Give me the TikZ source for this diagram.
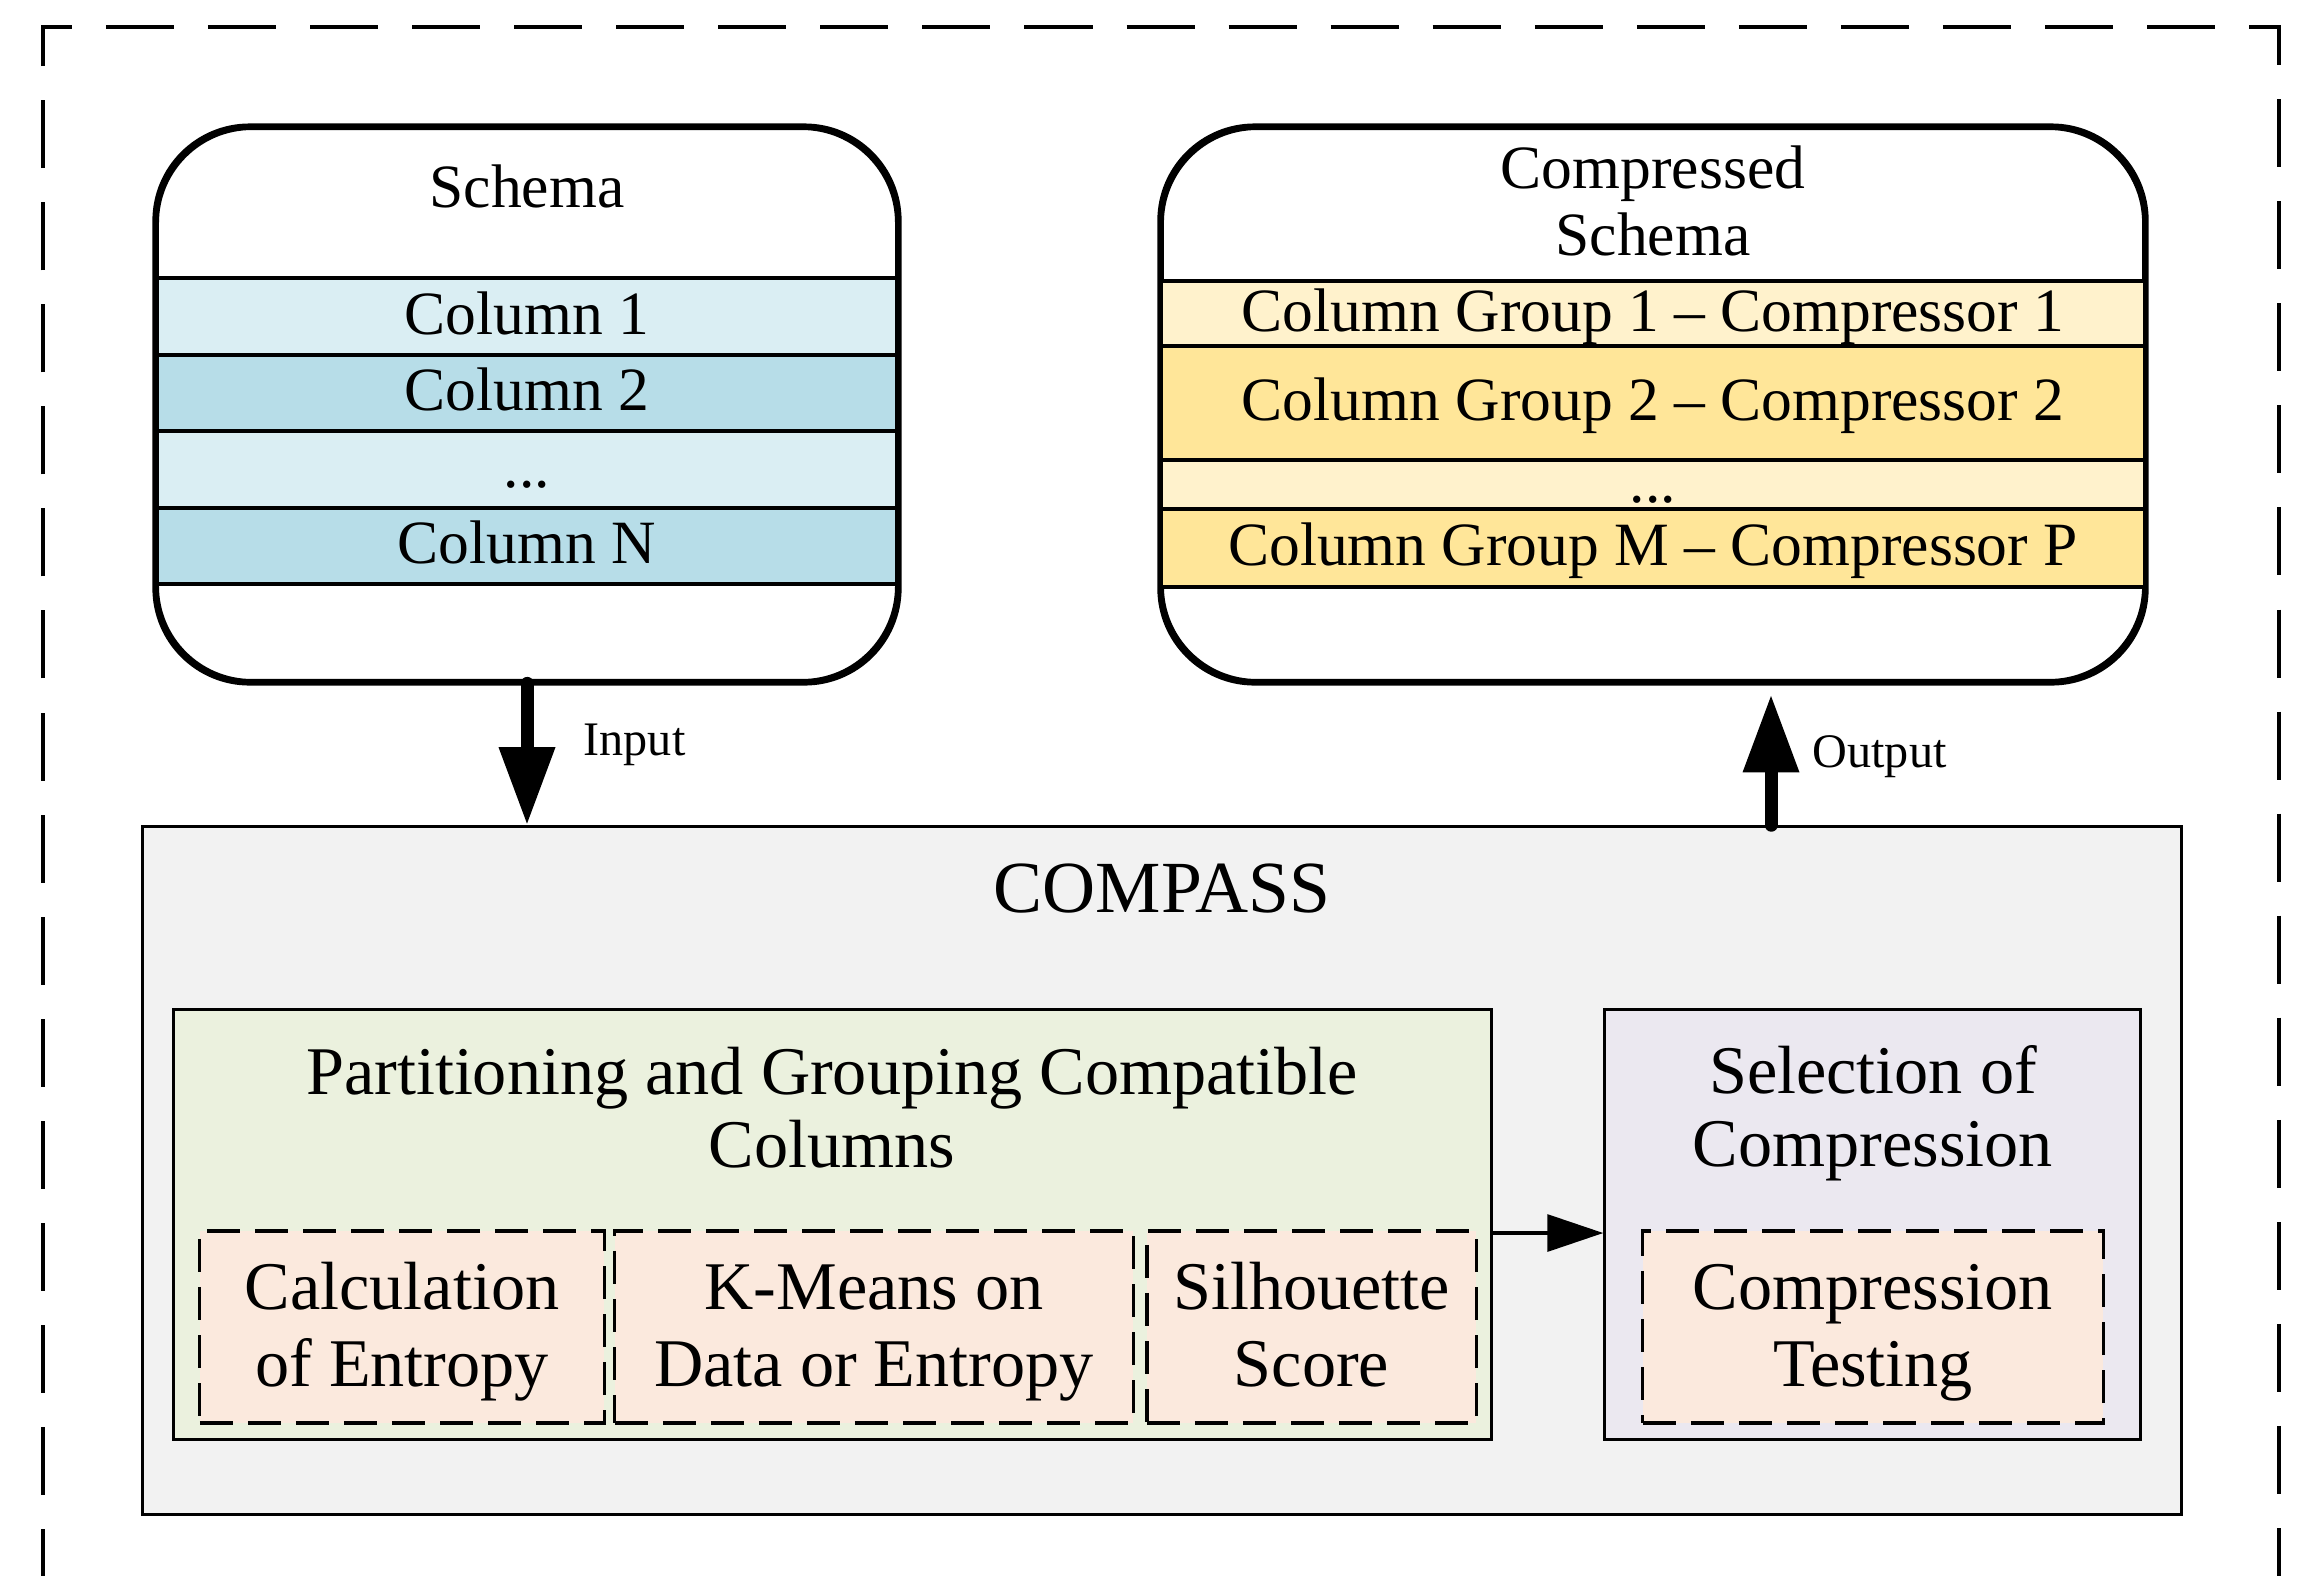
\documentclass[tikz,border=0pt]{standalone}
\usepackage{fontspec}
\setmainfont{Liberation Serif}
\usetikzlibrary{arrows.meta,calc}
\definecolor{sLight}{HTML}{DAEEF3}
\definecolor{sDark}{HTML}{B7DDE8}
\definecolor{cLight}{HTML}{FFF2CC}
\definecolor{cDark}{HTML}{FFE699}
\definecolor{cGray}{HTML}{F2F2F2}
\definecolor{gFill}{HTML}{EBF1DE}
\definecolor{pFill}{HTML}{EBE8F0}
\definecolor{peach}{HTML}{FBE9DD}
\newcommand\fschema{\fontsize{17.5pt}{19.1pt}\selectfont}
\newcommand\flabel{\fontsize{13.7pt}{15pt}\selectfont}
\newcommand\ftitle{\fontsize{20.9pt}{23pt}\selectfont}
\newcommand\finnerT{\fontsize{19.4pt}{20.8pt}\selectfont}
\newcommand\finner{\fontsize{19.4pt}{22pt}\selectfont}
\newcommand\dst{\rule[-5.1pt]{0pt}{22pt}}
\begin{document}
\begin{tikzpicture}[x=0.01cm,y=-0.01cm,
  box/.style={draw, line width=0.9pt, inner sep=0pt},
  roundbox/.style={draw, line width=1.25pt, fill=white, rounded corners=0.95cm, inner sep=0pt, minimum height=5.53cm},
  rowbox/.style={draw, line width=1pt, inner sep=0pt, text height=10pt, text depth=0pt, font=\fschema},
  dbox/.style={draw, line width=0.9pt, dash pattern=on 0.33cm off 0.15cm, fill=peach, inner sep=0pt, align=center, font=\finner, minimum height=1.92cm},
  bigarrow/.style={line width=3.7pt, line cap=round, -{Triangle[length=0.78cm, width=0.53cm]}},
  smallarrow/.style={line width=0.9pt, -{Triangle[length=0.56cm, width=0.37cm]}},
  lbl/.style={font=\flabel, anchor=base west, inner sep=0pt}
]
\useasboundingbox (0,0) rectangle (2315,1575);
\clip (0,0) rectangle (2315,1575);
% outer dashed frame
\draw[line width=1.1pt, dash pattern=on 0.68cm off 0.34cm, dash phase=0.99cm]
  (43,1600) -- (43,27) -- (2279,27) -- (2279,1600);

% Schema
\node[roundbox, minimum width=7.4cm] (schema) at (527,404.5) {};
\node[font=\fschema, anchor=base, inner sep=0pt] (schematitle) at (527,207) {Schema};
\node[rowbox, fill=sLight, minimum width=7.4cm, minimum height=0.77cm] (s1) at (527,316.5) {Column 1};
\node[rowbox, fill=sDark, minimum width=7.4cm, minimum height=0.76cm] (s2) at (527,393) {Column 2};
\node[rowbox, fill=sLight, minimum width=7.4cm, minimum height=0.77cm] (s3) at (527,469.5) {...};
\node[rowbox, fill=sDark, minimum width=7.4cm, minimum height=0.76cm] (s4) at (527,546) {Column N};
\draw[line width=1.25pt, rounded corners=0.95cm] (schema.north west) rectangle (schema.south east);

% Compressed schema
\node[roundbox, minimum width=9.82cm] (comp) at (1653,404.5) {};
\node[font=\fschema, align=center, inner sep=0pt] (comptitle) at (1653,201) {Compressed\\Schema};
\node[rowbox, fill=cLight, minimum width=9.82cm, minimum height=0.65cm] (c1) at (1653,313.5) {Column Group 1 -- Compressor 1};
\node[rowbox, fill=cDark, minimum width=9.82cm, minimum height=1.14cm] (c2) at (1653,403) {Column Group 2 -- Compressor 2};
\node[rowbox, fill=cLight, minimum width=9.82cm, minimum height=0.49cm] (c3) at (1653,484.5) {...};
\node[rowbox, fill=cDark, minimum width=9.82cm, minimum height=0.78cm] (c4) at (1653,548) {Column Group M -- Compressor P};
\draw[line width=1.25pt, rounded corners=0.95cm] (comp.north west) rectangle (comp.south east);

% COMPASS
\node[box, fill=cGray, minimum width=20.38cm, minimum height=6.87cm] (compass) at (1162,1170.5) {};
\node[font=\ftitle, anchor=base, inner sep=0pt] (compasstitle) at (1162,912) {COMPASS};

% Partitioning box
\node[box, fill=gFill, minimum width=13.17cm, minimum height=4.29cm] (green) at (832.5,1224.5) {};
\node[font=\finnerT, align=center, inner sep=0pt] (greentitle) at (832,1108) {Partitioning and Grouping Compatible\\Columns};
\node[dbox, minimum width=4.04cm] (d1) at (402,1327) {\dst Calculation\\\dst of Entropy};
\node[dbox, minimum width=5.18cm] (d2) at (874,1327) {\dst K-Means on\\\dst Data or Entropy};
\node[dbox, minimum width=3.29cm] (d3) at (1311.5,1327) {\dst Silhouette\\\dst Score};

% Selection box
\node[box, fill=pFill, minimum width=5.35cm, minimum height=4.29cm] (purple) at (1872.5,1224.5) {};
\node[font=\finnerT, align=center, inner sep=0pt] (purpletitle) at (1873,1113.5) {Selection of\\Compression};
\node[dbox, minimum width=4.60cm] (d4) at (1873,1327) {\dst Compression\\\dst Testing};

% connectors
\coordinate (outx) at (1771,0);
\draw[bigarrow] (schema.south) -- (schema.south |- compass.north);
\draw[bigarrow] (outx |- compass.north) -- ($(outx |- comp.south)+(0,11)$);
\draw[smallarrow] ([yshift=-0.085cm]green.east) -- ([yshift=-0.085cm]purple.west);

\node[lbl] (inlabel) at (583,755) {Input};
\node[lbl] (outlabel) at (1812,767) {Output};
\end{tikzpicture}
\end{document}
